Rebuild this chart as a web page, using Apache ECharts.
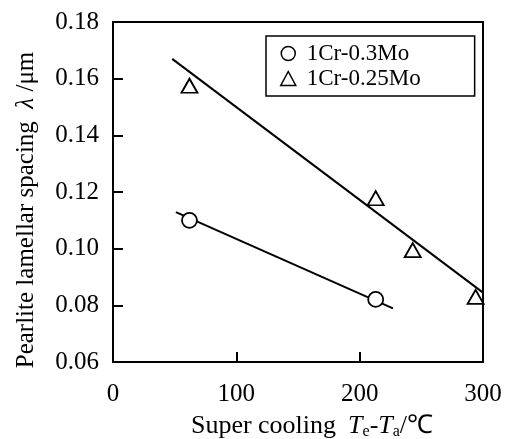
<!DOCTYPE html>
<html>
<head>
<meta charset="utf-8">
<script src="https://cdn.jsdelivr.net/npm/echarts@6/dist/echarts.min.js"></script>
<style>html,body{margin:0;padding:0;background:#fff}#c{width:507px;height:439px}</style>
</head>
<body>
<div id="c"></div>
<script>
// Data
const seriesNames = ['1Cr-0.3Mo', '1Cr-0.25Mo'];
const mo30Points = [[62, 0.110], [213, 0.0821]];
const mo25Points = [[62, 0.1575], [213, 0.1178], [243, 0.0995], [294, 0.083]];
const mo30Fit = [[51, 0.1129], [227, 0.0789]];
const mo25Fit = [[48, 0.167], [300, 0.0845]];
const xTicks = [0, 100, 200, 300];
const yTicks = [0.06, 0.08, 0.10, 0.12, 0.14, 0.16, 0.18];

const FONT = 'Liberation Serif';
const chart = echarts.init(document.getElementById('c'));
chart.setOption({
  animation: false,
  backgroundColor: '#fff',
  textStyle: { fontFamily: FONT, color: '#000' },
  grid: { left: 113, right: 24, top: 22, bottom: 77, containLabel: false, outerBoundsMode: 'none',
          show: true, borderColor: '#000', borderWidth: 2, backgroundColor: 'transparent' },
  legend: {
    orient: 'vertical',
    left: 266, top: 36,
    padding: [6, 54, 6, 14],
    itemGap: 2,
    itemWidth: 15, itemHeight: 14,
    borderColor: '#000', borderWidth: 1.5,
    textStyle: { fontFamily: FONT, fontSize: 23, color: '#000', padding: [0, 0, 0, 6] },
    data: [
      { name: seriesNames[0], icon: 'circle', itemStyle: { color: '#fff', borderColor: '#000', borderWidth: 1.5 } },
      { name: seriesNames[1], icon: 'triangle', itemStyle: { color: '#fff', borderColor: '#000', borderWidth: 1.5 } }
    ]
  },
  xAxis: {
    type: 'value', min: xTicks[0], max: xTicks[xTicks.length - 1], interval: 100,
    axisLine: { lineStyle: { color: '#000', width: 2 } },
    axisTick: { inside: true, length: 10, lineStyle: { color: '#000', width: 2 } },
    splitLine: { show: false },
    axisLabel: { fontFamily: FONT, fontSize: 25, color: '#000', margin: 20 },
    name: '{n|Super cooling}    {i|T}{s|e}{n|-}{i|T}{s|a}{n|/℃}',
    nameLocation: 'middle', nameGap: 50,
    nameTextStyle: {
      padding: [0, 0, 0, 28],
      rich: {
        n: { fontFamily: FONT, fontSize: 26, color: '#000' },
        i: { fontFamily: FONT, fontSize: 26, fontStyle: 'italic', color: '#000' },
        s: { fontFamily: FONT, fontSize: 16, color: '#000', verticalAlign: 'bottom', padding: [12, 0, 0, 0] }
      }
    }
  },
  yAxis: {
    type: 'value', min: yTicks[0], max: yTicks[yTicks.length - 1], interval: 0.02,
    axisLine: { lineStyle: { color: '#000', width: 2 } },
    axisTick: { inside: true, length: 10, lineStyle: { color: '#000', width: 2 } },
    splitLine: { show: false },
    axisLabel: { fontFamily: FONT, fontSize: 25, color: '#000', margin: 14, formatter: v => v.toFixed(2) },
    name: '{n|Pearlite lamellar spacing  }{i|λ}{n| /μm}',
    nameLocation: 'middle', nameGap: 74, nameRotate: 90,
    nameTextStyle: {
      padding: [0, 36, 0, 0],
      rich: {
        n: { fontFamily: FONT, fontSize: 25, color: '#000' },
        i: { fontFamily: FONT, fontSize: 25, fontStyle: 'italic', color: '#000' }
      }
    }
  },
  series: [
    { name: 'fit30', type: 'line', data: mo30Fit, symbol: 'none', lineStyle: { color: '#000', width: 2 }, z: 1 },
    { name: 'fit25', type: 'line', data: mo25Fit, symbol: 'none', lineStyle: { color: '#000', width: 2 }, z: 1 },
    { name: seriesNames[0], type: 'scatter', data: mo30Points, symbol: 'circle', symbolSize: 15,
      itemStyle: { color: '#fff', borderColor: '#000', borderWidth: 1.8, opacity: 1 }, z: 3 },
    { name: seriesNames[1], type: 'scatter', data: mo25Points, symbol: 'triangle', symbolSize: [16, 14],
      itemStyle: { color: '#fff', borderColor: '#000', borderWidth: 1.8, opacity: 1 }, z: 3 }
  ]
});
</script>
</body>
</html>
